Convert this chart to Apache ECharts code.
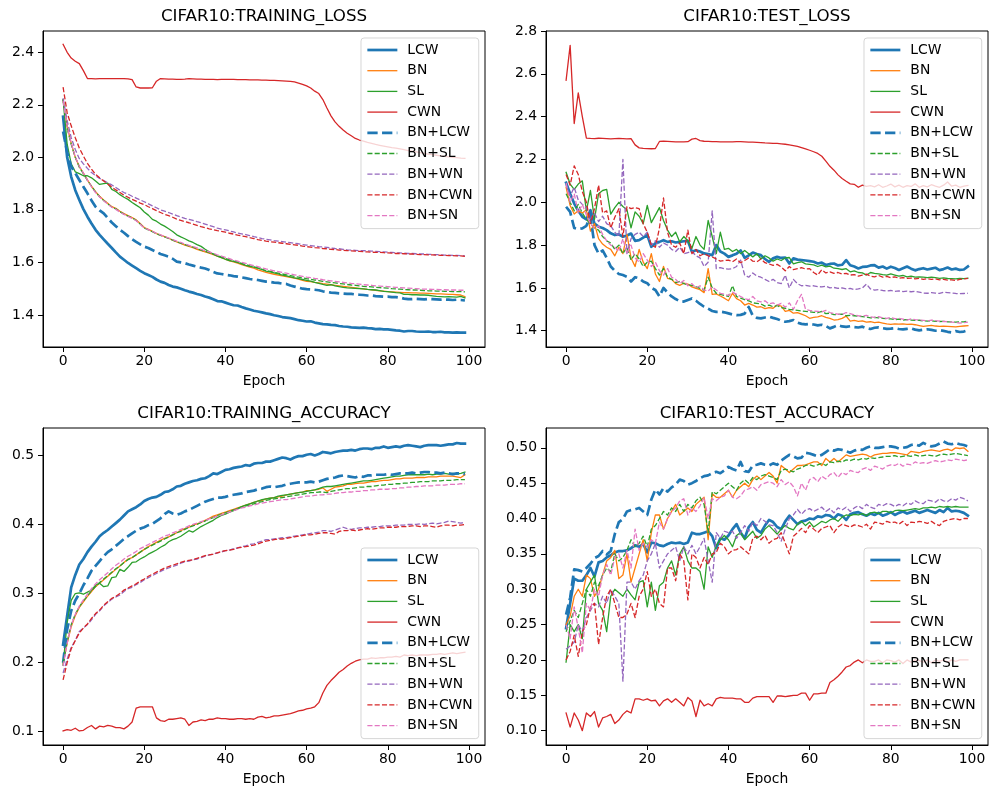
<!DOCTYPE html>
<html>
<head>
<meta charset="utf-8">
<title>CIFAR10 curves</title>
<script src="https://cdn.jsdelivr.net/npm/echarts@6.0.0/dist/echarts.min.js"></script>
<style>
  html, body { margin: 0; padding: 0; background: #fff; }
  #chart { width: 990px; height: 791px; }
</style>
</head>
<body>
<div id="chart"></div>
<script>
// ---- data ----
const epochs = Array.from({ length: 100 }, (_, i) => i);
const methods = ['LCW', 'BN', 'SL', 'CWN', 'BN+LCW', 'BN+SL', 'BN+WN', 'BN+CWN', 'BN+SN'];

const epochTicks = [0, 20, 40, 60, 80, 100];
const trainLossTicks = [1.4, 1.6, 1.8, 2.0, 2.2, 2.4];
const testLossTicks = [1.4, 1.6, 1.8, 2.0, 2.2, 2.4, 2.6, 2.8];
const trainAccTicks = [0.1, 0.2, 0.3, 0.4, 0.5];
const testAccTicks = [0.10, 0.15, 0.20, 0.25, 0.30, 0.35, 0.40, 0.45, 0.50];

// training loss
const trainLossLCW = [
  2.155,2.000,1.926,1.875,1.838,1.803,1.774,1.748,1.724,1.705,
  1.688,1.671,1.655,1.638,1.622,1.610,1.598,1.588,1.578,1.568,
  1.559,1.552,1.545,1.535,1.527,1.522,1.514,1.508,1.505,1.500,
  1.494,1.489,1.485,1.480,1.476,1.470,1.466,1.460,1.453,1.452,
  1.447,1.442,1.437,1.436,1.430,1.425,1.421,1.416,1.413,1.410,
  1.406,1.403,1.399,1.396,1.392,1.390,1.388,1.384,1.380,1.378,
  1.375,1.376,1.371,1.368,1.365,1.364,1.362,1.361,1.358,1.356,
  1.355,1.353,1.352,1.351,1.352,1.350,1.349,1.346,1.347,1.345,
  1.345,1.343,1.341,1.340,1.337,1.339,1.339,1.337,1.336,1.336,
  1.337,1.335,1.335,1.336,1.334,1.334,1.333,1.334,1.333,1.333];
const trainLossBN = [
  2.218,2.120,2.053,2.000,1.965,1.940,1.914,1.890,1.869,1.852,
  1.838,1.825,1.812,1.806,1.795,1.786,1.778,1.771,1.762,1.748,
  1.733,1.726,1.718,1.710,1.704,1.698,1.692,1.685,1.678,1.672,
  1.666,1.661,1.656,1.650,1.645,1.640,1.635,1.630,1.624,1.618,
  1.612,1.606,1.602,1.597,1.592,1.587,1.582,1.578,1.572,1.567,
  1.562,1.558,1.555,1.552,1.549,1.546,1.543,1.540,1.536,1.532,
  1.528,1.527,1.524,1.522,1.519,1.517,1.515,1.513,1.511,1.509,
  1.507,1.505,1.503,1.501,1.499,1.497,1.496,1.494,1.492,1.491,
  1.489,1.488,1.487,1.486,1.485,1.485,1.484,1.484,1.483,1.483,
  1.482,1.481,1.480,1.480,1.479,1.478,1.478,1.477,1.476,1.470];
const trainLossSL = [
  2.220,2.050,1.975,1.945,1.938,1.930,1.930,1.922,1.910,1.897,
  1.900,1.902,1.878,1.870,1.858,1.848,1.840,1.828,1.818,1.808,
  1.792,1.780,1.764,1.757,1.746,1.738,1.728,1.718,1.705,1.697,
  1.690,1.682,1.676,1.668,1.661,1.650,1.640,1.632,1.624,1.618,
  1.612,1.607,1.604,1.600,1.594,1.589,1.585,1.582,1.578,1.573,
  1.567,1.564,1.560,1.556,1.552,1.549,1.545,1.541,1.538,1.535,
  1.532,1.529,1.524,1.520,1.516,1.513,1.515,1.511,1.508,1.505,
  1.503,1.502,1.501,1.500,1.499,1.497,1.496,1.495,1.493,1.490,
  1.489,1.487,1.485,1.484,1.478,1.478,1.477,1.477,1.476,1.476,
  1.475,1.473,1.471,1.470,1.469,1.470,1.469,1.468,1.471,1.465];
const trainLossCWN = [
  2.430,2.400,2.378,2.366,2.357,2.330,2.300,2.300,2.299,2.300,
  2.300,2.300,2.300,2.300,2.300,2.300,2.299,2.296,2.268,2.264,
  2.264,2.264,2.265,2.290,2.300,2.299,2.298,2.298,2.297,2.297,
  2.298,2.300,2.299,2.298,2.298,2.297,2.297,2.297,2.296,2.297,
  2.297,2.297,2.297,2.296,2.296,2.296,2.295,2.295,2.295,2.294,
  2.294,2.293,2.293,2.292,2.291,2.290,2.289,2.287,2.283,2.278,
  2.272,2.264,2.252,2.243,2.220,2.188,2.158,2.135,2.118,2.104,
  2.092,2.082,2.072,2.066,2.062,2.057,2.053,2.049,2.046,2.043,
  2.040,2.037,2.035,2.032,2.029,2.026,2.024,2.021,2.018,2.015,
  2.012,2.010,2.008,2.006,2.004,2.002,2.000,1.999,1.997,1.996];
const trainLossBNLCW = [
  2.098,2.020,1.965,1.940,1.914,1.888,1.863,1.836,1.812,1.798,
  1.787,1.769,1.752,1.738,1.724,1.713,1.700,1.688,1.678,1.669,
  1.660,1.655,1.647,1.640,1.632,1.627,1.622,1.614,1.603,1.600,
  1.597,1.592,1.588,1.584,1.580,1.577,1.571,1.564,1.558,1.556,
  1.553,1.551,1.548,1.546,1.543,1.540,1.537,1.535,1.533,1.530,
  1.527,1.526,1.523,1.522,1.519,1.518,1.512,1.508,1.504,1.500,
  1.498,1.497,1.496,1.494,1.490,1.488,1.485,1.484,1.482,1.481,
  1.480,1.480,1.478,1.477,1.476,1.474,1.474,1.472,1.471,1.470,
  1.470,1.468,1.468,1.466,1.462,1.460,1.460,1.461,1.460,1.459,
  1.461,1.460,1.459,1.458,1.459,1.458,1.457,1.458,1.457,1.455];
const trainLossBNSL = [
  2.220,2.110,2.050,2.000,1.962,1.938,1.912,1.890,1.868,1.850,
  1.836,1.823,1.811,1.804,1.793,1.784,1.776,1.770,1.760,1.746,
  1.731,1.724,1.717,1.709,1.703,1.697,1.691,1.685,1.679,1.673,
  1.668,1.663,1.658,1.652,1.647,1.642,1.637,1.632,1.626,1.621,
  1.615,1.610,1.605,1.601,1.596,1.592,1.587,1.583,1.578,1.574,
  1.569,1.566,1.562,1.559,1.556,1.553,1.550,1.547,1.544,1.541,
  1.538,1.536,1.533,1.531,1.528,1.526,1.524,1.522,1.520,1.518,
  1.516,1.514,1.513,1.511,1.509,1.508,1.507,1.505,1.504,1.503,
  1.502,1.500,1.499,1.498,1.497,1.496,1.495,1.495,1.494,1.493,
  1.492,1.492,1.491,1.491,1.490,1.490,1.489,1.489,1.489,1.488];
const trainLossBNWN = [
  2.225,2.140,2.075,2.030,1.995,1.975,1.958,1.942,1.930,1.920,
  1.912,1.903,1.895,1.885,1.875,1.866,1.860,1.852,1.845,1.838,
  1.831,1.823,1.815,1.808,1.800,1.795,1.790,1.784,1.778,1.773,
  1.768,1.764,1.760,1.755,1.751,1.746,1.741,1.736,1.731,1.727,
  1.724,1.720,1.716,1.712,1.709,1.706,1.702,1.698,1.695,1.691,
  1.688,1.686,1.683,1.681,1.679,1.677,1.675,1.673,1.671,1.668,
  1.666,1.664,1.662,1.660,1.659,1.657,1.655,1.653,1.652,1.650,
  1.648,1.647,1.646,1.645,1.645,1.644,1.643,1.642,1.641,1.640,
  1.639,1.638,1.637,1.636,1.635,1.634,1.634,1.633,1.632,1.632,
  1.631,1.630,1.630,1.629,1.628,1.628,1.627,1.627,1.626,1.625];
const trainLossBNCWN = [
  2.267,2.170,2.120,2.075,2.035,2.005,1.977,1.955,1.935,1.922,
  1.910,1.898,1.887,1.876,1.866,1.856,1.848,1.840,1.833,1.826,
  1.820,1.812,1.805,1.797,1.790,1.783,1.778,1.772,1.765,1.760,
  1.755,1.751,1.746,1.741,1.736,1.732,1.728,1.725,1.721,1.718,
  1.715,1.711,1.708,1.704,1.701,1.698,1.694,1.691,1.687,1.684,
  1.681,1.679,1.677,1.675,1.673,1.671,1.669,1.667,1.665,1.662,
  1.660,1.658,1.656,1.655,1.653,1.652,1.650,1.649,1.647,1.646,
  1.645,1.644,1.643,1.642,1.641,1.640,1.639,1.638,1.638,1.637,
  1.636,1.635,1.634,1.634,1.633,1.632,1.632,1.631,1.630,1.630,
  1.629,1.629,1.628,1.627,1.627,1.626,1.626,1.625,1.625,1.623];
const trainLossBNSN = [
  2.215,2.115,2.055,2.002,1.966,1.940,1.913,1.888,1.866,1.849,
  1.835,1.822,1.810,1.802,1.792,1.783,1.775,1.768,1.759,1.745,
  1.731,1.725,1.718,1.711,1.705,1.699,1.693,1.687,1.681,1.676,
  1.670,1.665,1.660,1.655,1.650,1.645,1.640,1.635,1.629,1.624,
  1.619,1.614,1.609,1.605,1.600,1.596,1.592,1.588,1.584,1.579,
  1.575,1.572,1.568,1.565,1.562,1.559,1.556,1.553,1.550,1.547,
  1.544,1.542,1.539,1.537,1.534,1.532,1.530,1.528,1.526,1.524,
  1.522,1.520,1.519,1.517,1.515,1.514,1.513,1.511,1.510,1.509,
  1.508,1.506,1.505,1.504,1.503,1.502,1.501,1.500,1.499,1.498,
  1.498,1.497,1.497,1.496,1.496,1.495,1.495,1.495,1.494,1.494];

// test loss
const testLossLCW = [
  2.091,2.040,1.994,1.960,1.932,1.920,1.963,1.900,1.886,1.880,
  1.870,1.855,1.847,1.850,1.839,1.845,1.854,1.820,1.823,1.835,
  1.847,1.792,1.808,1.815,1.823,1.815,1.818,1.812,1.815,1.818,
  1.820,1.769,1.776,1.770,1.761,1.758,1.753,1.800,1.770,1.760,
  1.745,1.752,1.760,1.775,1.740,1.752,1.765,1.758,1.753,1.735,
  1.722,1.738,1.745,1.740,1.742,1.714,1.738,1.732,1.730,1.728,
  1.725,1.722,1.714,1.718,1.707,1.712,1.714,1.705,1.708,1.730,
  1.706,1.700,1.691,1.698,1.699,1.705,1.706,1.695,1.700,1.690,
  1.699,1.693,1.684,1.692,1.700,1.690,1.682,1.688,1.692,1.686,
  1.690,1.694,1.683,1.688,1.695,1.686,1.690,1.684,1.686,1.700];
const testLossBN = [
  2.070,1.985,1.945,1.960,1.950,1.965,1.865,1.900,1.830,1.805,
  1.790,1.780,1.750,1.790,1.760,1.850,1.740,1.700,1.780,1.720,
  1.690,1.760,1.665,1.630,1.700,1.645,1.640,1.620,1.612,1.622,
  1.618,1.605,1.598,1.592,1.578,1.690,1.570,1.572,1.562,1.552,
  1.540,1.575,1.550,1.540,1.520,1.528,1.520,1.510,1.512,1.503,
  1.508,1.505,1.520,1.515,1.490,1.495,1.482,1.485,1.478,1.470,
  1.458,1.462,1.465,1.470,1.462,1.458,1.450,1.452,1.458,1.468,
  1.445,1.448,1.444,1.446,1.440,1.442,1.438,1.440,1.436,1.432,
  1.430,1.432,1.431,1.432,1.430,1.431,1.428,1.424,1.420,1.423,
  1.425,1.422,1.420,1.421,1.420,1.419,1.418,1.420,1.422,1.424];
const testLossSL = [
  2.140,2.085,2.060,2.085,2.100,1.960,2.055,1.920,2.040,2.055,
  2.060,1.945,1.975,2.000,1.980,1.965,1.880,1.955,1.935,1.900,
  1.985,1.905,1.940,1.975,1.915,1.870,1.840,1.860,1.815,1.840,
  1.820,1.785,1.840,1.800,1.780,1.915,1.840,1.760,1.860,1.780,
  1.785,1.770,1.780,1.760,1.775,1.760,1.745,1.760,1.735,1.750,
  1.740,1.725,1.735,1.728,1.740,1.742,1.712,1.718,1.722,1.712,
  1.710,1.708,1.700,1.706,1.698,1.702,1.692,1.690,1.686,1.690,
  1.675,1.680,1.672,1.670,1.660,1.672,1.668,1.666,1.662,1.660,
  1.665,1.660,1.655,1.658,1.652,1.655,1.650,1.652,1.650,1.648,
  1.650,1.648,1.645,1.647,1.644,1.643,1.642,1.644,1.643,1.645];
const testLossCWN = [
  2.570,2.733,2.368,2.511,2.400,2.300,2.298,2.297,2.299,2.298,
  2.297,2.296,2.297,2.298,2.297,2.296,2.297,2.268,2.254,2.252,
  2.251,2.250,2.251,2.284,2.285,2.284,2.283,2.282,2.282,2.282,
  2.283,2.295,2.298,2.288,2.285,2.284,2.283,2.283,2.282,2.282,
  2.282,2.282,2.283,2.283,2.282,2.281,2.281,2.280,2.279,2.277,
  2.276,2.275,2.275,2.273,2.271,2.268,2.265,2.261,2.255,2.249,
  2.243,2.236,2.228,2.215,2.192,2.168,2.150,2.128,2.111,2.098,
  2.086,2.084,2.070,2.080,2.074,2.078,2.072,2.082,2.070,2.076,
  2.085,2.072,2.080,2.070,2.078,2.074,2.086,2.070,2.078,2.072,
  2.082,2.075,2.070,2.080,2.095,2.075,2.080,2.070,2.075,2.078];
const testLossBNLCW = [
  1.979,1.955,1.880,1.875,1.878,1.890,1.935,1.800,1.760,1.775,
  1.740,1.700,1.680,1.665,1.660,1.652,1.630,1.650,1.645,1.630,
  1.622,1.600,1.590,1.560,1.600,1.578,1.560,1.548,1.538,1.536,
  1.544,1.551,1.540,1.525,1.512,1.503,1.492,1.488,1.489,1.486,
  1.481,1.476,1.473,1.474,1.480,1.511,1.470,1.460,1.458,1.462,
  1.466,1.460,1.455,1.447,1.442,1.445,1.450,1.438,1.432,1.430,
  1.432,1.429,1.425,1.428,1.422,1.411,1.418,1.426,1.420,1.418,
  1.421,1.417,1.415,1.419,1.412,1.408,1.414,1.416,1.412,1.409,
  1.410,1.412,1.408,1.406,1.409,1.411,1.405,1.402,1.405,1.407,
  1.404,1.400,1.403,1.399,1.395,1.392,1.398,1.394,1.396,1.402];
const testLossBNSL = [
  2.040,2.000,1.960,1.990,1.950,1.920,1.900,1.880,1.870,1.840,
  1.820,1.810,1.780,1.800,1.760,1.790,1.730,1.760,1.735,1.700,
  1.720,1.725,1.690,1.660,1.690,1.650,1.640,1.625,1.630,1.620,
  1.615,1.612,1.605,1.598,1.590,1.650,1.600,1.575,1.570,1.565,
  1.560,1.610,1.560,1.552,1.545,1.540,1.530,1.528,1.525,1.515,
  1.520,1.512,1.518,1.508,1.505,1.500,1.498,1.495,1.492,1.490,
  1.488,1.486,1.484,1.490,1.480,1.482,1.475,1.476,1.478,1.470,
  1.472,1.470,1.468,1.466,1.464,1.460,1.462,1.460,1.458,1.456,
  1.455,1.452,1.454,1.450,1.452,1.450,1.448,1.449,1.446,1.445,
  1.447,1.444,1.443,1.444,1.442,1.441,1.440,1.442,1.441,1.445];
const testLossBNWN = [
  2.080,2.030,2.070,2.010,1.990,1.975,1.920,1.950,1.910,1.935,
  1.900,1.890,1.860,1.840,2.200,1.760,1.830,1.850,1.860,1.840,
  1.860,1.800,1.820,1.790,1.810,1.800,1.780,1.770,1.790,1.760,
  1.765,1.770,1.750,1.740,1.700,1.720,1.960,1.690,1.695,1.690,
  1.688,1.690,1.700,1.730,1.660,1.650,1.670,1.655,1.650,1.640,
  1.630,1.640,1.625,1.620,1.660,1.600,1.640,1.620,1.610,1.612,
  1.608,1.610,1.606,1.605,1.608,1.600,1.602,1.598,1.600,1.596,
  1.598,1.592,1.595,1.600,1.618,1.595,1.590,1.592,1.588,1.586,
  1.588,1.584,1.586,1.583,1.585,1.582,1.584,1.580,1.576,1.575,
  1.578,1.576,1.574,1.580,1.578,1.576,1.574,1.573,1.574,1.575];
const testLossBNCWN = [
  2.130,2.080,2.170,2.130,2.050,2.000,1.900,1.970,2.080,1.950,
  1.960,1.880,1.930,1.970,1.840,1.980,1.970,1.975,1.970,1.900,
  1.860,1.800,1.790,1.880,2.020,1.860,1.800,1.790,1.810,1.760,
  1.870,1.760,1.780,1.750,1.760,1.750,1.745,1.735,1.725,1.728,
  1.730,1.722,1.735,1.718,1.728,1.740,1.725,1.722,1.735,1.718,
  1.712,1.705,1.710,1.698,1.680,1.700,1.685,1.690,1.695,1.688,
  1.690,1.672,1.660,1.685,1.670,1.675,1.668,1.672,1.665,1.668,
  1.660,1.662,1.655,1.660,1.664,1.655,1.652,1.658,1.650,1.654,
  1.648,1.652,1.645,1.648,1.645,1.646,1.642,1.645,1.640,1.643,
  1.640,1.642,1.638,1.640,1.636,1.638,1.634,1.640,1.642,1.645];
const testLossBNSN = [
  2.090,2.000,2.040,1.950,1.990,1.940,1.900,1.880,1.890,1.850,
  1.820,1.800,1.790,1.770,1.830,1.760,1.800,1.740,1.720,1.760,
  1.730,1.700,1.720,1.680,1.660,1.690,1.650,1.640,1.620,1.635,
  1.610,1.620,1.600,1.610,1.590,1.585,1.605,1.590,1.575,1.570,
  1.565,1.580,1.570,1.560,1.550,1.545,1.560,1.540,1.535,1.540,
  1.525,1.530,1.520,1.528,1.510,1.530,1.500,1.540,1.570,1.500,
  1.495,1.492,1.490,1.488,1.495,1.485,1.480,1.478,1.476,1.485,
  1.480,1.474,1.470,1.468,1.472,1.465,1.462,1.466,1.460,1.458,
  1.462,1.456,1.458,1.454,1.450,1.455,1.452,1.450,1.448,1.446,
  1.450,1.447,1.445,1.443,1.442,1.440,1.438,1.436,1.438,1.440];

// training accuracy
const trainAccLCW = [
  0.226,0.268,0.309,0.327,0.342,0.350,0.360,0.368,0.375,0.383,
  0.388,0.392,0.397,0.402,0.407,0.413,0.419,0.422,0.425,0.429,
  0.434,0.437,0.439,0.440,0.443,0.447,0.448,0.451,0.455,0.456,
  0.459,0.461,0.463,0.464,0.466,0.467,0.470,0.474,0.473,0.476,
  0.479,0.480,0.482,0.483,0.484,0.486,0.485,0.488,0.489,0.489,
  0.491,0.491,0.493,0.495,0.497,0.496,0.494,0.497,0.499,0.499,
  0.501,0.502,0.500,0.502,0.505,0.504,0.503,0.505,0.506,0.507,
  0.507,0.508,0.507,0.509,0.510,0.510,0.509,0.511,0.511,0.513,
  0.511,0.512,0.513,0.512,0.514,0.515,0.514,0.513,0.512,0.514,
  0.515,0.515,0.515,0.514,0.515,0.516,0.516,0.518,0.517,0.517];
const trainAccBN = [
  0.198,0.228,0.252,0.268,0.280,0.288,0.296,0.303,0.310,0.315,
  0.320,0.325,0.330,0.335,0.340,0.345,0.350,0.352,0.356,0.360,
  0.364,0.368,0.371,0.374,0.377,0.380,0.382,0.385,0.388,0.391,
  0.394,0.396,0.399,0.401,0.403,0.406,0.409,0.412,0.414,0.416,
  0.418,0.420,0.422,0.424,0.426,0.428,0.430,0.432,0.434,0.435,
  0.437,0.438,0.439,0.440,0.441,0.443,0.444,0.445,0.446,0.447,
  0.449,0.449,0.450,0.451,0.453,0.448,0.451,0.454,0.455,0.456,
  0.458,0.458,0.459,0.460,0.460,0.461,0.462,0.462,0.463,0.464,
  0.464,0.465,0.466,0.466,0.467,0.467,0.467,0.468,0.468,0.468,
  0.469,0.469,0.469,0.470,0.470,0.470,0.470,0.469,0.468,0.472];
const trainAccSL = [
  0.196,0.258,0.290,0.300,0.301,0.299,0.302,0.305,0.312,0.315,
  0.310,0.311,0.323,0.324,0.335,0.332,0.338,0.345,0.346,0.350,
  0.353,0.357,0.360,0.363,0.367,0.370,0.375,0.378,0.380,0.383,
  0.387,0.391,0.389,0.393,0.397,0.400,0.403,0.406,0.410,0.413,
  0.415,0.418,0.420,0.423,0.426,0.428,0.430,0.432,0.434,0.436,
  0.437,0.438,0.439,0.441,0.442,0.443,0.444,0.445,0.446,0.447,
  0.448,0.449,0.450,0.452,0.454,0.455,0.455,0.456,0.457,0.458,
  0.459,0.460,0.461,0.462,0.463,0.463,0.464,0.465,0.466,0.467,
  0.468,0.469,0.470,0.470,0.471,0.472,0.472,0.472,0.472,0.472,
  0.473,0.472,0.473,0.473,0.474,0.473,0.474,0.473,0.474,0.476];
const trainAccCWN = [
  0.101,0.103,0.102,0.105,0.101,0.102,0.106,0.109,0.104,0.108,
  0.107,0.109,0.108,0.106,0.106,0.104,0.108,0.114,0.134,0.136,
  0.136,0.136,0.136,0.120,0.116,0.115,0.118,0.118,0.119,0.120,
  0.118,0.109,0.114,0.115,0.117,0.116,0.118,0.118,0.120,0.119,
  0.119,0.118,0.118,0.119,0.119,0.118,0.119,0.118,0.121,0.122,
  0.120,0.121,0.123,0.123,0.124,0.125,0.126,0.128,0.130,0.131,
  0.133,0.134,0.136,0.142,0.156,0.167,0.174,0.180,0.186,0.190,
  0.195,0.199,0.202,0.204,0.205,0.205,0.207,0.206,0.207,0.207,
  0.208,0.208,0.209,0.208,0.211,0.210,0.211,0.210,0.211,0.211,
  0.211,0.212,0.212,0.213,0.212,0.213,0.214,0.213,0.214,0.215];
const trainAccBNLCW = [
  0.200,0.248,0.275,0.290,0.300,0.312,0.322,0.333,0.340,0.347,
  0.354,0.360,0.364,0.369,0.374,0.379,0.383,0.387,0.391,0.394,
  0.396,0.399,0.401,0.405,0.409,0.415,0.419,0.416,0.414,0.416,
  0.419,0.421,0.424,0.427,0.430,0.433,0.435,0.437,0.439,0.439,
  0.440,0.442,0.443,0.444,0.445,0.447,0.448,0.449,0.451,0.452,
  0.454,0.455,0.454,0.455,0.456,0.458,0.459,0.460,0.461,0.461,
  0.461,0.462,0.461,0.462,0.464,0.466,0.467,0.468,0.470,0.471,
  0.470,0.469,0.468,0.470,0.469,0.471,0.471,0.472,0.472,0.472,
  0.473,0.472,0.473,0.474,0.474,0.474,0.475,0.474,0.475,0.476,
  0.476,0.475,0.475,0.474,0.475,0.474,0.473,0.474,0.474,0.473];
const trainAccBNSL = [
  0.200,0.230,0.255,0.270,0.281,0.289,0.297,0.304,0.310,0.316,
  0.321,0.326,0.331,0.336,0.340,0.345,0.349,0.352,0.356,0.360,
  0.364,0.367,0.370,0.373,0.376,0.379,0.382,0.385,0.388,0.390,
  0.393,0.396,0.398,0.400,0.403,0.405,0.408,0.410,0.413,0.415,
  0.417,0.419,0.421,0.423,0.425,0.427,0.428,0.430,0.432,0.433,
  0.435,0.436,0.437,0.438,0.439,0.440,0.441,0.442,0.443,0.444,
  0.445,0.446,0.446,0.447,0.447,0.446,0.448,0.449,0.450,0.451,
  0.452,0.452,0.453,0.454,0.454,0.455,0.455,0.456,0.457,0.457,
  0.458,0.458,0.459,0.459,0.460,0.460,0.461,0.461,0.462,0.462,
  0.462,0.463,0.463,0.463,0.464,0.464,0.464,0.465,0.465,0.465];
const trainAccBNWN = [
  0.185,0.205,0.222,0.232,0.245,0.250,0.255,0.262,0.270,0.275,
  0.282,0.287,0.292,0.295,0.298,0.303,0.307,0.309,0.313,0.316,
  0.320,0.323,0.326,0.329,0.332,0.335,0.337,0.339,0.341,0.344,
  0.346,0.347,0.349,0.350,0.352,0.354,0.356,0.357,0.359,0.360,
  0.362,0.363,0.365,0.366,0.368,0.369,0.371,0.372,0.374,0.376,
  0.378,0.378,0.379,0.380,0.381,0.381,0.382,0.383,0.384,0.385,
  0.386,0.387,0.388,0.389,0.391,0.391,0.390,0.392,0.394,0.396,
  0.394,0.393,0.394,0.395,0.395,0.396,0.396,0.397,0.397,0.398,
  0.398,0.398,0.399,0.399,0.399,0.400,0.400,0.400,0.401,0.400,
  0.401,0.402,0.401,0.402,0.403,0.405,0.404,0.403,0.402,0.403];
const trainAccBNCWN = [
  0.175,0.200,0.220,0.232,0.243,0.250,0.256,0.264,0.271,0.276,
  0.283,0.288,0.293,0.296,0.300,0.305,0.308,0.311,0.314,0.318,
  0.321,0.325,0.328,0.331,0.334,0.337,0.339,0.341,0.343,0.345,
  0.347,0.348,0.349,0.351,0.353,0.355,0.356,0.357,0.359,0.361,
  0.362,0.363,0.364,0.366,0.367,0.368,0.369,0.370,0.372,0.374,
  0.376,0.377,0.378,0.379,0.379,0.380,0.381,0.382,0.383,0.384,
  0.385,0.385,0.386,0.387,0.388,0.388,0.387,0.386,0.390,0.391,
  0.391,0.392,0.391,0.392,0.393,0.394,0.393,0.394,0.395,0.395,
  0.396,0.396,0.396,0.397,0.397,0.397,0.398,0.398,0.397,0.398,
  0.398,0.397,0.396,0.398,0.399,0.399,0.398,0.399,0.399,0.400];
const trainAccBNSN = [
  0.195,0.228,0.254,0.270,0.282,0.291,0.299,0.307,0.314,0.320,
  0.325,0.330,0.336,0.341,0.345,0.350,0.354,0.357,0.361,0.365,
  0.368,0.371,0.374,0.377,0.380,0.383,0.385,0.388,0.390,0.393,
  0.395,0.398,0.400,0.402,0.404,0.406,0.408,0.410,0.412,0.414,
  0.416,0.418,0.420,0.422,0.424,0.425,0.427,0.428,0.430,0.431,
  0.432,0.433,0.434,0.435,0.436,0.436,0.437,0.438,0.439,0.440,
  0.441,0.441,0.442,0.443,0.443,0.444,0.444,0.445,0.446,0.446,
  0.447,0.447,0.448,0.448,0.449,0.449,0.450,0.450,0.451,0.451,
  0.451,0.452,0.452,0.453,0.453,0.454,0.454,0.455,0.455,0.456,
  0.456,0.456,0.457,0.457,0.457,0.458,0.458,0.458,0.459,0.459];

// test accuracy
const testAccLCW = [
  0.245,0.280,0.315,0.312,0.312,0.320,0.330,0.318,0.338,0.340,
  0.345,0.348,0.352,0.354,0.354,0.355,0.358,0.362,0.360,0.364,
  0.352,0.366,0.365,0.362,0.361,0.364,0.366,0.365,0.366,0.364,
  0.366,0.380,0.378,0.378,0.380,0.382,0.375,0.358,0.372,0.370,
  0.376,0.385,0.392,0.380,0.372,0.388,0.395,0.384,0.380,0.390,
  0.398,0.395,0.388,0.385,0.396,0.404,0.398,0.392,0.396,0.397,
  0.400,0.399,0.403,0.402,0.405,0.404,0.400,0.406,0.404,0.398,
  0.406,0.408,0.409,0.406,0.404,0.407,0.405,0.408,0.404,0.406,
  0.409,0.405,0.408,0.410,0.407,0.409,0.411,0.408,0.410,0.412,
  0.410,0.408,0.412,0.409,0.415,0.410,0.411,0.410,0.408,0.404];
const testAccBN = [
  0.250,0.262,0.290,0.300,0.290,0.320,0.315,0.290,0.300,0.320,
  0.340,0.345,0.355,0.315,0.320,0.350,0.310,0.330,0.350,0.370,
  0.340,0.380,0.405,0.405,0.385,0.400,0.410,0.420,0.405,0.410,
  0.415,0.410,0.420,0.425,0.430,0.370,0.435,0.430,0.430,0.435,
  0.440,0.430,0.440,0.445,0.450,0.445,0.455,0.460,0.455,0.460,
  0.465,0.460,0.450,0.475,0.470,0.465,0.470,0.475,0.475,0.476,
  0.478,0.480,0.480,0.475,0.485,0.480,0.485,0.480,0.485,0.490,
  0.488,0.489,0.490,0.491,0.490,0.487,0.490,0.491,0.492,0.492,
  0.493,0.493,0.492,0.491,0.490,0.495,0.494,0.493,0.495,0.496,
  0.497,0.496,0.495,0.497,0.498,0.496,0.500,0.499,0.500,0.495];
const testAccSL = [
  0.197,0.250,0.240,0.250,0.230,0.300,0.310,0.320,0.280,0.270,
  0.240,0.290,0.300,0.295,0.290,0.300,0.292,0.285,0.310,0.312,
  0.275,0.310,0.270,0.305,0.310,0.330,0.340,0.320,0.350,0.360,
  0.340,0.330,0.330,0.325,0.300,0.360,0.345,0.362,0.370,0.376,
  0.370,0.360,0.376,0.380,0.370,0.376,0.382,0.372,0.376,0.385,
  0.390,0.384,0.378,0.385,0.390,0.386,0.384,0.392,0.396,0.390,
  0.395,0.388,0.392,0.396,0.394,0.398,0.400,0.396,0.402,0.405,
  0.404,0.406,0.405,0.407,0.404,0.408,0.409,0.407,0.410,0.410,
  0.408,0.411,0.412,0.411,0.412,0.413,0.414,0.413,0.415,0.415,
  0.416,0.415,0.417,0.416,0.417,0.416,0.417,0.416,0.416,0.416];
const testAccCWN = [
  0.125,0.105,0.125,0.115,0.100,0.125,0.120,0.127,0.105,0.118,
  0.120,0.123,0.110,0.115,0.123,0.128,0.125,0.145,0.145,0.143,
  0.145,0.142,0.143,0.135,0.142,0.145,0.140,0.145,0.140,0.135,
  0.147,0.142,0.120,0.143,0.135,0.138,0.135,0.145,0.147,0.146,
  0.146,0.146,0.145,0.145,0.140,0.140,0.146,0.148,0.148,0.148,
  0.148,0.140,0.149,0.149,0.148,0.149,0.150,0.150,0.153,0.153,
  0.143,0.152,0.152,0.153,0.153,0.168,0.172,0.177,0.183,0.190,
  0.192,0.197,0.200,0.196,0.200,0.198,0.198,0.200,0.196,0.200,
  0.199,0.197,0.200,0.195,0.200,0.197,0.200,0.199,0.197,0.200,
  0.196,0.200,0.198,0.200,0.197,0.200,0.198,0.200,0.200,0.200];
const testAccBNLCW = [
  0.264,0.288,0.328,0.327,0.325,0.330,0.336,0.344,0.347,0.354,
  0.349,0.354,0.378,0.395,0.399,0.410,0.412,0.413,0.415,0.410,
  0.405,0.427,0.441,0.434,0.443,0.438,0.444,0.448,0.455,0.453,
  0.448,0.450,0.453,0.457,0.460,0.461,0.464,0.466,0.464,0.468,
  0.473,0.470,0.468,0.480,0.467,0.466,0.475,0.476,0.478,0.476,
  0.475,0.478,0.476,0.482,0.486,0.490,0.488,0.485,0.486,0.493,
  0.492,0.490,0.488,0.490,0.494,0.498,0.496,0.498,0.497,0.495,
  0.493,0.496,0.498,0.497,0.500,0.502,0.500,0.500,0.501,0.502,
  0.502,0.501,0.499,0.500,0.501,0.504,0.505,0.503,0.507,0.504,
  0.502,0.503,0.506,0.509,0.506,0.505,0.507,0.505,0.504,0.502];
const testAccBNSL = [
  0.240,0.255,0.270,0.260,0.280,0.300,0.290,0.310,0.305,0.320,
  0.330,0.325,0.350,0.340,0.345,0.355,0.370,0.360,0.365,0.375,
  0.360,0.385,0.390,0.400,0.410,0.405,0.415,0.410,0.420,0.410,
  0.420,0.415,0.425,0.430,0.420,0.380,0.438,0.435,0.440,0.445,
  0.450,0.445,0.440,0.450,0.455,0.450,0.458,0.455,0.460,0.462,
  0.460,0.458,0.455,0.468,0.470,0.468,0.466,0.470,0.472,0.475,
  0.476,0.474,0.476,0.478,0.475,0.480,0.479,0.481,0.480,0.483,
  0.482,0.484,0.483,0.485,0.484,0.486,0.485,0.486,0.487,0.488,
  0.488,0.489,0.487,0.488,0.489,0.488,0.490,0.488,0.489,0.490,
  0.489,0.488,0.490,0.491,0.490,0.491,0.492,0.491,0.490,0.489];
const testAccBNWN = [
  0.215,0.220,0.225,0.250,0.240,0.260,0.270,0.280,0.275,0.290,
  0.280,0.300,0.290,0.280,0.170,0.310,0.310,0.300,0.312,0.320,
  0.340,0.350,0.365,0.330,0.340,0.350,0.355,0.360,0.340,0.360,
  0.350,0.362,0.350,0.360,0.372,0.340,0.310,0.380,0.372,0.382,
  0.380,0.382,0.372,0.380,0.390,0.382,0.395,0.390,0.400,0.396,
  0.391,0.390,0.380,0.368,0.385,0.400,0.405,0.413,0.406,0.412,
  0.414,0.410,0.413,0.416,0.410,0.414,0.408,0.415,0.412,0.416,
  0.410,0.415,0.418,0.414,0.420,0.416,0.414,0.420,0.418,0.421,
  0.420,0.417,0.420,0.418,0.422,0.420,0.425,0.422,0.421,0.426,
  0.425,0.423,0.428,0.425,0.424,0.428,0.426,0.430,0.428,0.425];
const testAccBNCWN = [
  0.200,0.212,0.235,0.205,0.240,0.250,0.275,0.280,0.222,0.260,
  0.290,0.300,0.280,0.260,0.260,0.265,0.280,0.260,0.290,0.300,
  0.325,0.290,0.300,0.280,0.275,0.330,0.330,0.312,0.350,0.340,
  0.285,0.350,0.345,0.330,0.345,0.335,0.350,0.352,0.365,0.360,
  0.350,0.355,0.356,0.360,0.355,0.350,0.372,0.375,0.370,0.376,
  0.365,0.370,0.372,0.380,0.365,0.350,0.375,0.380,0.386,0.380,
  0.390,0.385,0.380,0.386,0.388,0.390,0.380,0.388,0.392,0.390,
  0.388,0.391,0.390,0.388,0.392,0.385,0.395,0.394,0.392,0.396,
  0.394,0.395,0.392,0.396,0.390,0.395,0.394,0.396,0.395,0.393,
  0.396,0.392,0.390,0.396,0.398,0.399,0.400,0.398,0.400,0.400];
const testAccBNSN = [
  0.250,0.230,0.275,0.245,0.210,0.280,0.270,0.300,0.290,0.320,
  0.335,0.320,0.345,0.350,0.330,0.355,0.330,0.385,0.355,0.365,
  0.360,0.370,0.365,0.395,0.385,0.400,0.410,0.415,0.425,0.428,
  0.405,0.415,0.410,0.418,0.430,0.400,0.428,0.425,0.430,0.432,
  0.440,0.430,0.428,0.432,0.440,0.442,0.445,0.440,0.448,0.450,
  0.452,0.450,0.445,0.455,0.448,0.452,0.445,0.432,0.450,0.440,
  0.455,0.458,0.452,0.460,0.456,0.462,0.465,0.458,0.465,0.462,
  0.468,0.466,0.465,0.470,0.472,0.468,0.474,0.472,0.470,0.474,
  0.476,0.475,0.478,0.474,0.477,0.476,0.480,0.478,0.479,0.478,
  0.480,0.482,0.480,0.481,0.483,0.482,0.484,0.483,0.482,0.483];

// ---- look & layout ----
const FONT = 'DejaVu Sans';
const lineLook = {
  'LCW':    { color: '#1f77b4', width: 2.7, dash: null },
  'BN':     { color: '#ff7f0e', width: 1.3, dash: null },
  'SL':     { color: '#2ca02c', width: 1.3, dash: null },
  'CWN':    { color: '#d62728', width: 1.3, dash: null },
  'BN+LCW': { color: '#1f77b4', width: 2.7, dash: [10.3, 4.4] },
  'BN+SL':  { color: '#2ca02c', width: 1.3, dash: [5.1, 2.2] },
  'BN+WN':  { color: '#9467bd', width: 1.3, dash: [5.1, 2.2] },
  'BN+CWN': { color: '#d62728', width: 1.3, dash: [5.1, 2.2] },
  'BN+SN':  { color: '#e377c2', width: 1.3, dash: [5.1, 2.2] },
};

const panels = [
  {
    title: 'CIFAR10:TRAINING_LOSS', titleY: 17,
    grid: { left: 43, top: 31, width: 442, height: 316 },
    yMin: 1.278, yMax: 2.481, yTicks: trainLossTicks, digits: 1,
    legend: { left: 361, top: 38 },
    values: [trainLossLCW, trainLossBN, trainLossSL, trainLossCWN, trainLossBNLCW,
      trainLossBNSL, trainLossBNWN, trainLossBNCWN, trainLossBNSN],
  },
  {
    title: 'CIFAR10:TEST_LOSS', titleY: 17,
    grid: { left: 546, top: 31, width: 442, height: 316 },
    yMin: 1.324, yMax: 2.8, yTicks: testLossTicks, digits: 1,
    legend: { left: 864, top: 38 },
    values: [testLossLCW, testLossBN, testLossSL, testLossCWN, testLossBNLCW,
      testLossBNSL, testLossBNWN, testLossBNCWN, testLossBNSN],
  },
  {
    title: 'CIFAR10:TRAINING_ACCURACY', titleY: 414,
    grid: { left: 43, top: 428, width: 442, height: 317 },
    yMin: 0.0807, yMax: 0.5397, yTicks: trainAccTicks, digits: 1,
    legend: { left: 361, top: 548 },
    values: [trainAccLCW, trainAccBN, trainAccSL, trainAccCWN, trainAccBNLCW,
      trainAccBNSL, trainAccBNWN, trainAccBNCWN, trainAccBNSN],
  },
  {
    title: 'CIFAR10:TEST_ACCURACY', titleY: 414,
    grid: { left: 546, top: 428, width: 442, height: 317 },
    yMin: 0.0797, yMax: 0.528, yTicks: testAccTicks, digits: 2,
    legend: { left: 864, top: 548 },
    values: [testAccLCW, testAccBN, testAccSL, testAccCWN, testAccBNLCW,
      testAccBNSL, testAccBNWN, testAccBNCWN, testAccBNSN],
  },
];

const tickText = { fontFamily: FONT, fontSize: 13.9, color: '#000' };

const grids = [];
const xAxes = [];
const yAxes = [];
const legends = [];
const series = [];
const titles = [];

panels.forEach((p, idx) => {
  grids.push(Object.assign({ show: true, borderColor: '#000', borderWidth: 1, containLabel: false }, p.grid));

  xAxes.push({
    type: 'value', gridIndex: idx, min: -4.95, max: 103.95,
    name: 'Epoch', nameLocation: 'middle', nameGap: 27,
    nameTextStyle: tickText,
    axisLine: { show: true, onZero: false, lineStyle: { color: '#000', width: 1 } },
    axisTick: { show: true, length: 5, customValues: epochTicks, lineStyle: { color: '#000', width: 1 } },
    axisLabel: Object.assign({ margin: 7, customValues: epochTicks, formatter: (v) => String(v) }, tickText),
    splitLine: { show: false },
  });

  yAxes.push({
    type: 'value', gridIndex: idx, min: p.yMin, max: p.yMax,
    axisLine: { show: true, onZero: false, lineStyle: { color: '#000', width: 1 } },
    axisTick: { show: true, length: 5, customValues: p.yTicks, lineStyle: { color: '#000', width: 1 } },
    axisLabel: Object.assign({ margin: 9, customValues: p.yTicks, formatter: (v) => v.toFixed(p.digits) }, tickText),
    splitLine: { show: false },
  });

  // line samples only: the marker the line legend adds is made invisible,
  // and the sample keeps the series' own width and dash
  legends.push({
    data: methods, orient: 'vertical', align: 'left',
    left: p.legend.left, top: p.legend.top,
    itemWidth: 30, itemHeight: 14, itemGap: 6.7,
    padding: [5, 6, 6, 5],
    backgroundColor: 'rgba(255,255,255,0.8)',
    borderColor: 'rgba(204,204,204,0.8)', borderWidth: 1, borderRadius: 3,
    selectedMode: false,
    itemStyle: { opacity: 0, borderWidth: 0 },
    lineStyle: { width: 'inherit', type: 'inherit', cap: 'butt' },
    textStyle: Object.assign({ padding: [0, 0, 0, 5], lineHeight: 14 }, tickText),
  });

  titles.push({
    type: 'text', x: p.grid.left + p.grid.width / 2, y: p.titleY,
    style: {
      text: p.title, fill: '#000', fontFamily: FONT, fontSize: 16.7,
      align: 'center', verticalAlign: 'middle',
    },
  });

  methods.forEach((m, k) => {
    const look = lineLook[m];
    series.push({
      type: 'line', name: m, xAxisIndex: idx, yAxisIndex: idx,
      data: epochs.map((e, i) => [e, p.values[k][i]]),
      symbol: 'none', showSymbol: false, silent: true, animation: false,
      color: look.color,
      lineStyle: {
        color: look.color, width: look.width,
        type: look.dash ? look.dash : 'solid',
        cap: look.dash ? 'butt' : 'square', join: 'round',
      },
      emphasis: { disabled: true },
    });
  });
});

const myChart = echarts.init(document.getElementById('chart'), null, { renderer: 'canvas' });
myChart.setOption({
  backgroundColor: '#fff',
  animation: false,
  textStyle: { fontFamily: FONT },
  grid: grids,
  xAxis: xAxes,
  yAxis: yAxes,
  legend: legends,
  graphic: titles,
  series: series,
});
</script>
</body>
</html>
